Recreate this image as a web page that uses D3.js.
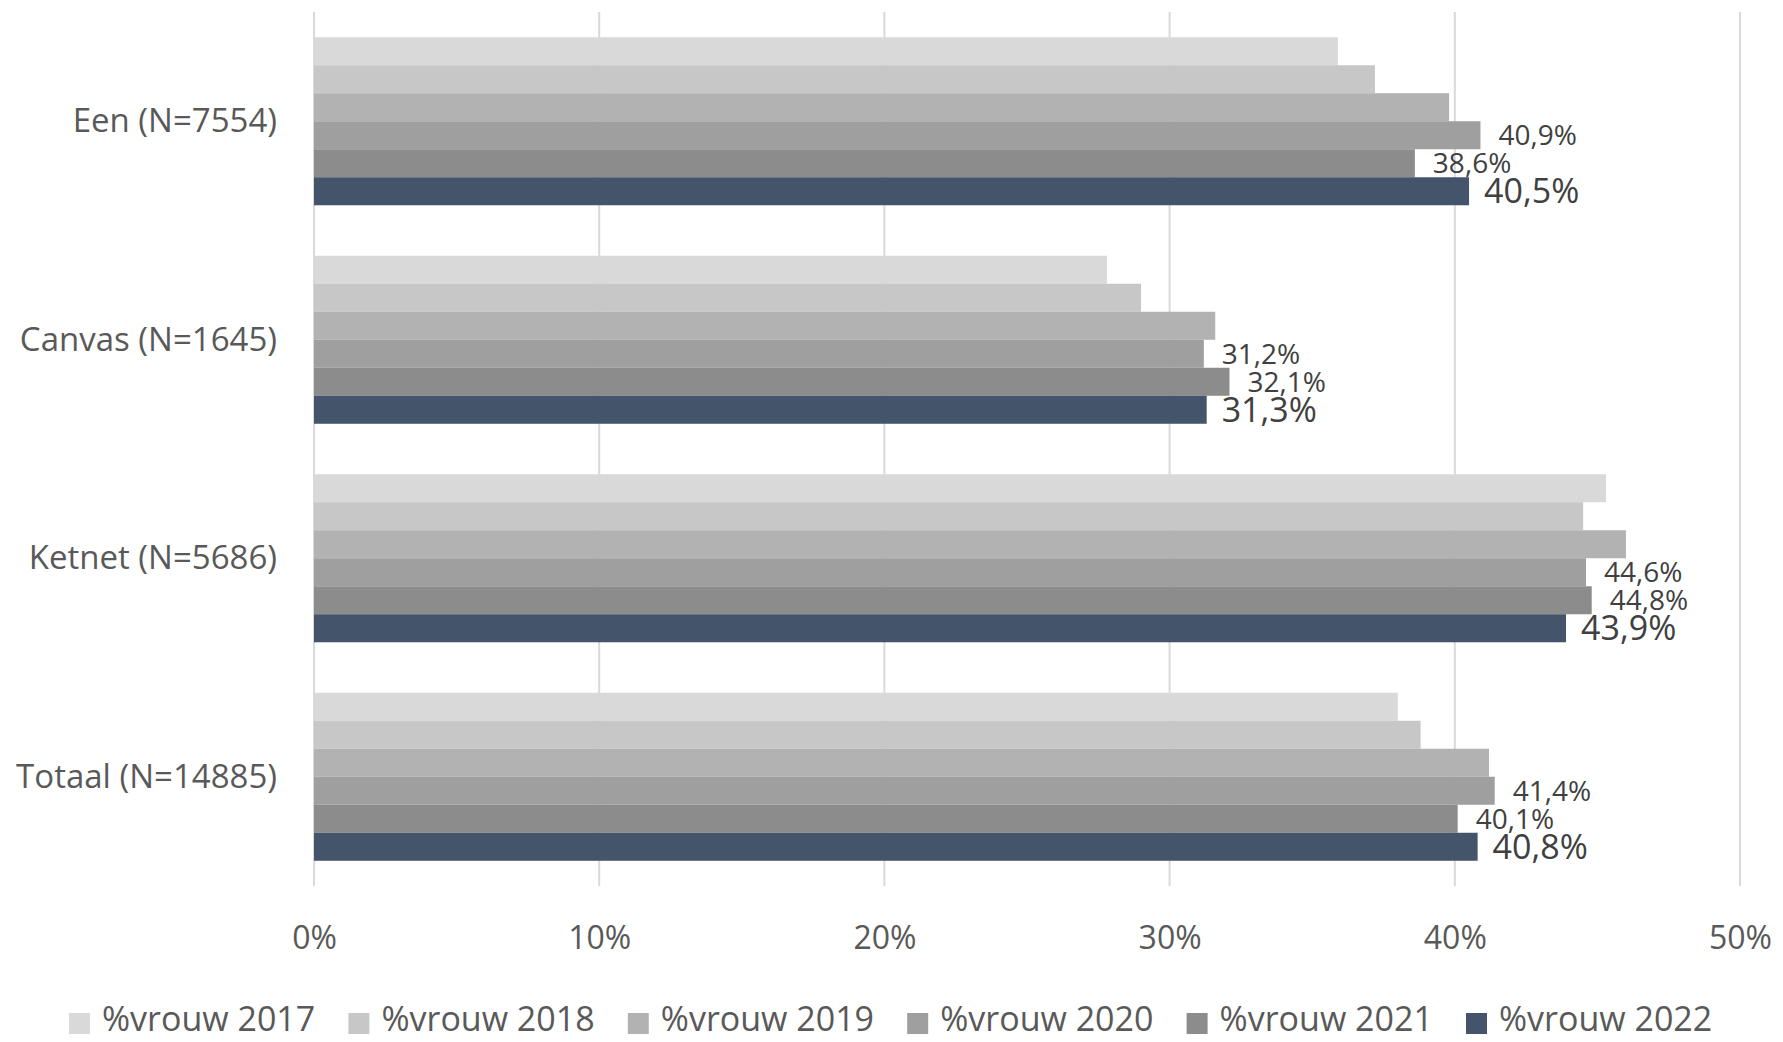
<!DOCTYPE html>
<html>
<head>
<meta charset="utf-8">
<script src="https://cdn.jsdelivr.net/npm/d3@7"></script>
<style>
  html, body { margin: 0; padding: 0; background: #ffffff; }
  svg { display: block; }
  text { font-family: "Open Sans", "DejaVu Sans", sans-serif; }
</style>
</head>
<body>
<svg id="chart" width="1783" height="1042"></svg>
<script>
// ---- data ----
const categories = ["Een (N=7554)", "Canvas (N=1645)", "Ketnet (N=5686)", "Totaal (N=14885)"];
const series = ["%vrouw 2017", "%vrouw 2018", "%vrouw 2019", "%vrouw 2020", "%vrouw 2021", "%vrouw 2022"];
const v2017 = [35.9, 27.8, 45.3, 38.0];
const v2018 = [37.2, 29.0, 44.5, 38.8];
const v2019 = [39.8, 31.6, 46.0, 41.2];
const v2020 = [40.9, 31.2, 44.6, 41.4];
const v2021 = [38.6, 32.1, 44.8, 40.1];
const v2022 = [40.5, 31.3, 43.9, 40.8];
const seriesValues = [v2017, v2018, v2019, v2020, v2021, v2022];
const labelledSeries = ["%vrouw 2020", "%vrouw 2021", "%vrouw 2022"];
const tickValues = [0, 10, 20, 30, 40, 50];
const colors = ["#d9d9d9", "#c7c7c7", "#b2b2b2", "#9f9f9f", "#8c8c8c", "#44546a"];

// ---- layout ----
const svg = d3.select("#chart");
const plot = { left: 314, right: 1740, top: 12, bottom: 886 };

const x = d3.scaleLinear().domain([0, 50]).range([plot.left, plot.right]);
const y = d3.scaleBand().domain(categories).range([plot.top, plot.bottom])
  .paddingInner(0.231).paddingOuter(0.1155);
const ySub = d3.scaleBand().domain(series).range([0, y.bandwidth()]).padding(0);
const color = d3.scaleOrdinal().domain(series).range(colors);

// gridlines
svg.append("g").selectAll("line").data(tickValues).join("line")
  .attr("x1", d => x(d)).attr("x2", d => x(d))
  .attr("y1", plot.top).attr("y2", plot.bottom)
  .attr("stroke", "#d9d9d9").attr("stroke-width", 2);

// tick labels via axis
const axis = d3.axisBottom(x).tickValues(tickValues).tickFormat(d => d + "%").tickSize(0).tickPadding(0);
const axG = svg.append("g").attr("transform", `translate(0, ${plot.bottom})`).call(axis);
axG.select(".domain").remove();
axG.selectAll("text")
  .attr("dy", null).attr("y", 63)
  .attr("fill", "#595959")
  .style("font-size", "32px")
  .style("font-family", "'Open Sans', sans-serif");

// category labels
svg.append("g").selectAll("text").data(categories).join("text")
  .attr("x", 277)
  .attr("y", d => y(d) + y.bandwidth() / 2 + 11)
  .attr("text-anchor", "end")
  .attr("fill", "#595959")
  .style("font-size", "33px")
  .text(d => d);

// bars
const flat = [];
categories.forEach((c, ci) => {
  series.forEach((s, si) => flat.push({ cat: c, ser: s, val: seriesValues[si][ci] }));
});

svg.append("g").selectAll("rect").data(flat).join("rect")
  .attr("x", x(0))
  .attr("y", d => y(d.cat) + ySub(d.ser))
  .attr("width", d => x(d.val) - x(0))
  .attr("height", ySub.bandwidth())
  .attr("fill", d => color(d.ser));

// data labels
const fmt = v => v.toFixed(1).replace(".", ",") + "%";
svg.append("g").selectAll("text")
  .data(flat.filter(d => labelledSeries.includes(d.ser))).join("text")
  .attr("x", d => x(d.val) + (d.ser === "%vrouw 2022" ? 15 : 18))
  .attr("y", d => y(d.cat) + ySub(d.ser) + ySub.bandwidth() / 2 + (d.ser === "%vrouw 2022" ? 12 : 10))
  .attr("fill", "#404040")
  .style("font-size", d => d.ser === "%vrouw 2022" ? "34px" : "28px")
  .text(d => fmt(d.val));

// legend
const legendX = d3.scalePoint().domain(series).range([69, 69 + 5 * 279.4]);
const lg = svg.append("g").selectAll("g").data(series).join("g")
  .attr("transform", d => `translate(${legendX(d)}, 0)`);
lg.append("rect").attr("x", 0).attr("y", 1013).attr("width", 21).attr("height", 21)
  .attr("fill", d => color(d));
lg.append("text").attr("x", 33).attr("y", 1031)
  .attr("fill", "#595959")
  .style("font-size", "34px")
  .text(d => d);
</script>
</body>
</html>
